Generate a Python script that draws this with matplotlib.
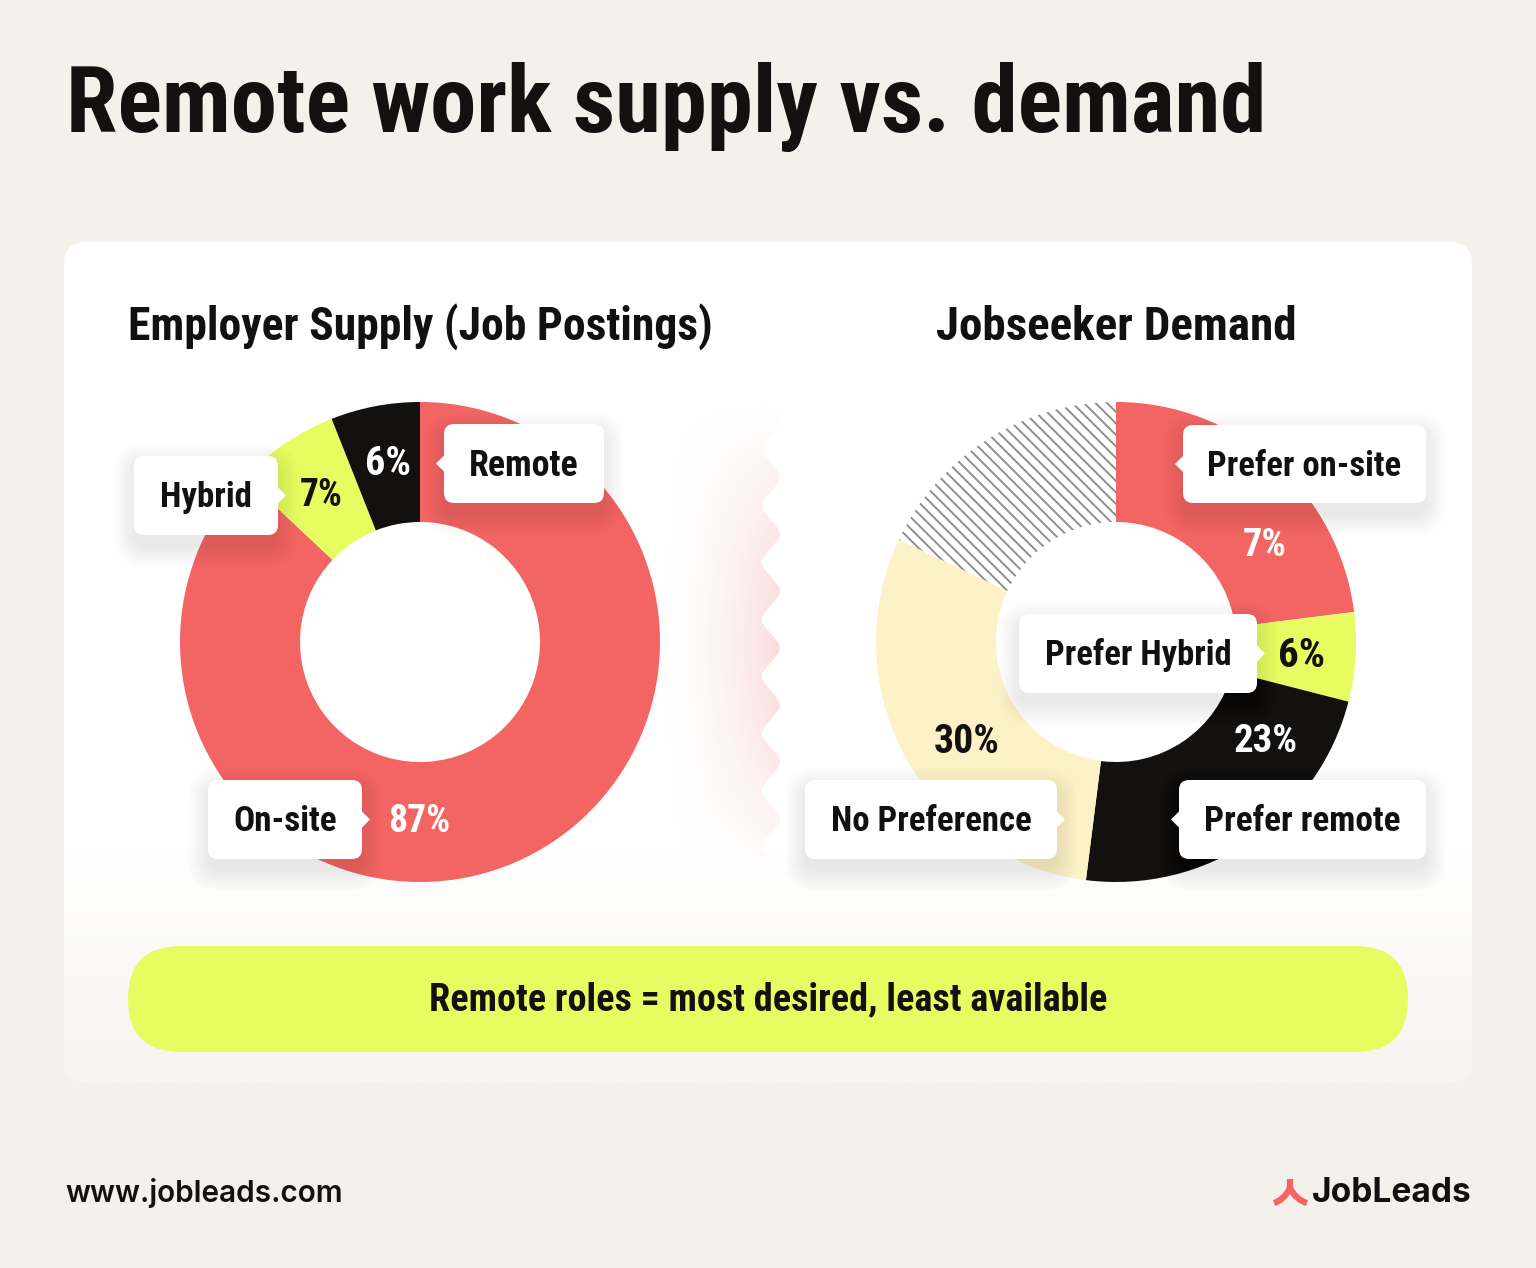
import os
import numpy as np
import matplotlib
matplotlib.use('Agg')
import matplotlib.pyplot as plt
from matplotlib.patches import FancyBboxPatch, Polygon, PathPatch
from matplotlib.path import Path
from matplotlib.collections import LineCollection
from matplotlib import font_manager
from matplotlib.font_manager import FontProperties

# --- data ---
supply_labels = ['On-site', 'Hybrid', 'Remote']
supply_shares = [87, 7, 6]

demand_labels = ['Prefer on-site', 'Prefer Hybrid', 'Prefer remote', 'No Preference']
demand_shares = [23, 6, 23, 30, 18]          # wedge sizes as drawn (last = unlabelled hatched part)
demand_pct_text = ['7%', '6%', '23%', '30%']  # numbers as printed on the chart

# --- style ---
W, H = 1536, 1268
BG = '#f4f1ea'
RED = '#f36563'
LIME = '#e6fc60'
INK = '#121110'
CREAM = '#fdf1c8'
HATCH = '#8c8c8c'

# narrow bold face for the headline text, picked from whatever is installed
wanted = ['robotocondensed-bold', 'notosans-condensedbold', 'liberationsansnarrow-bold',
          'notosans-semicondensedbold', 'dejavusanscondensed-bold', 'opensans-condensedbold']
files = {os.path.splitext(os.path.basename(f.fname))[0].lower(): f.fname
         for f in font_manager.fontManager.ttflist}
COND = None
for key in wanted:
    if key in files:
        COND = FontProperties(fname=files[key])
        break
if COND is None:
    COND = FontProperties(family='DejaVu Sans', weight='bold', stretch='condensed')
PLAIN = 'Inter' if 'Inter' in {f.name for f in font_manager.fontManager.ttflist} else 'DejaVu Sans'


def Y(y):
    # reference is measured top-down in pixels
    return H - y


fig = plt.figure(figsize=(W / 100, H / 100), dpi=100, facecolor=BG)
ax = fig.add_axes([0, 0, 1, 1])
ax.axis('off')
fits = []  # (text, target width in px)

# white card with faded bottom
card = FancyBboxPatch((64, Y(1082)), 1408, 840, boxstyle='round,pad=0,rounding_size=22',
                      fc='white', ec='none', zorder=0)
ax.add_patch(card)
c0 = np.array([1.0, 1.0, 1.0])
c1 = np.array(matplotlib.colors.to_rgb('#f6f4ef'))
t = np.linspace(0, 1, 200)[:, None, None]
grad = c0 * (1 - t) + c1 * t
im = ax.imshow(grad, extent=(64, 1472, Y(1082), Y(850)), origin='upper', aspect='auto', zorder=0.5)
im.set_clip_path(card)

# pink wavy divider
ys = np.linspace(Y(400), Y(885), 600)
phase = (Y(477) - ys) / 57.0 * 2 * np.pi + np.pi / 2
wave_x = 771 + 9 * np.arcsin(0.75 * np.sin(phase)) / np.arcsin(0.75)
verts = [(660, ys[0])] + list(zip(wave_x, ys)) + [(660, ys[-1])]
clip = Polygon(verts, closed=True, fc='none', ec='none', transform=ax.transData)
ax.add_patch(clip)
gx = np.linspace(0, 1, 130)
gy = np.linspace(0, 1, 240)
mx, my = np.meshgrid(gx, gy)
alpha = (mx ** 1.6) * np.clip(np.sin(np.pi * my), 0, 1) ** 1.2 * 0.27
pink = np.zeros((240, 130, 4))
pink[..., :3] = matplotlib.colors.to_rgb('#ee7f7f')
pink[..., 3] = alpha
pim = ax.imshow(pink, extent=(660, 782, Y(885), Y(400)), origin='upper', aspect='auto', zorder=0.6)
pim.set_clip_path(clip)

# donuts
left_c = (420, Y(642))
right_c = (1116, Y(642))
wl, _ = ax.pie(supply_shares, colors=[RED, LIME, INK], startangle=90, counterclock=False,
               center=left_c, radius=240, wedgeprops=dict(width=120, linewidth=0))
wr, _ = ax.pie(demand_shares, colors=[RED, LIME, INK, CREAM, 'white'], startangle=90,
               counterclock=False, center=right_c, radius=240,
               wedgeprops=dict(width=120, linewidth=0))
for w in wl + wr:
    w.set_zorder(2)

# diagonal hatching on the unlabelled part
cx, cy = right_c
segs = [[(cx + c - 300, cy + 300), (cx + c + 300, cy - 300)] for c in np.arange(-575, 575, 11.5)]
lc = LineCollection(segs, colors=HATCH, linewidths=1.35, zorder=2.5)
ax.add_collection(lc)
lc.set_clip_path(wr[4])


def callout(x0, y0, x1, y1, side, text, tw):
    w, h = x1 - x0, y1 - y0
    for k in range(1, 12):
        g = 2.0 * k
        ax.add_patch(FancyBboxPatch((x0 - g + 2, Y(y1) - g - 10), w + 2 * g - 4, h + 2 * g,
                                    boxstyle='round,pad=0,rounding_size=%d' % (10 + g),
                                    fc='#000000', ec='none', alpha=0.006, zorder=4))
    ax.add_patch(FancyBboxPatch((x0, Y(y1)), w, h, boxstyle='round,pad=0,rounding_size=10',
                                fc='white', ec='none', zorder=5))
    yc = Y((y0 + y1) / 2)
    if side == 'left':
        tri = [(x0 + 1, yc + 9), (x0 - 8, yc), (x0 + 1, yc - 9)]
    else:
        tri = [(x1 - 1, yc + 9), (x1 + 8, yc), (x1 - 1, yc - 9)]
    ax.add_patch(Polygon(tri, closed=True, fc='white', ec='none', zorder=5))
    txt = ax.text((x0 + x1) / 2, yc - 2, text, ha='center', va='center', fontproperties=COND,
                  fontsize=25, color=INK, zorder=6)
    fits.append((txt, tw))


def pct(x, y, text, color, tw):
    txt = ax.text(x, Y(y), text, ha='center', va='center', fontproperties=COND, fontsize=25,
                  color=color, zorder=6)
    fits.append((txt, tw))


# left labels
callout(444, 424, 604, 503, 'left', supply_labels[2], 110)
callout(134, 456, 278, 535, 'right', supply_labels[1], 92)
callout(208, 780, 362, 859, 'right', supply_labels[0], 104)
pct(388, 464, f'{supply_shares[2]}%', 'white', 46)
pct(321, 495, f'{supply_shares[1]}%', INK, 43)
pct(419, 821, f'{supply_shares[0]}%', 'white', 62)

# right labels
callout(1183, 425, 1426, 503, 'left', demand_labels[0], 194)
callout(1019, 614, 1257, 693, 'right', demand_labels[1], 187)
callout(1179, 780, 1426, 859, 'left', demand_labels[2], 197)
callout(805, 780, 1057, 859, 'right', demand_labels[3], 201)
pct(1265, 546, demand_pct_text[0], 'white', 44)
pct(1301, 656, demand_pct_text[1], INK, 47)
pct(1266, 742, demand_pct_text[2], 'white', 64)
pct(967, 742, demand_pct_text[3], INK, 66)

# titles
t1 = ax.text(66, Y(132), 'Remote work supply vs. demand', ha='left', va='baseline',
             fontproperties=COND, fontsize=64, color=INK)
t2 = ax.text(left_c[0], Y(340), 'Employer Supply (Job Postings)', ha='center', va='baseline',
             fontproperties=COND, fontsize=35, color=INK)
t3 = ax.text(right_c[0], Y(340), 'Jobseeker Demand', ha='center', va='baseline',
             fontproperties=COND, fontsize=35, color=INK)
fits += [(t1, 1200), (t2, 584), (t3, 361)]

# takeaway pill
ax.add_patch(FancyBboxPatch((128, Y(1052)), 1280, 106, boxstyle='round,pad=0,rounding_size=53',
                            fc=LIME, ec='none', zorder=3))
t4 = ax.text(768, Y(1000), 'Remote roles = most desired, least available', ha='center',
             va='center', fontproperties=COND, fontsize=27, color=INK, zorder=4)
fits.append((t4, 679))

# footer
t5 = ax.text(65, Y(1193), 'www.jobleads.com', ha='left', va='center', fontsize=22,
             family=PLAIN, weight='semibold', color=INK)
t6 = ax.text(1472, Y(1193), 'JobLeads', ha='right', va='center', fontsize=23,
             family=PLAIN, weight='bold', color=INK)
fits += [(t5, 278), (t6, 159)]
logo = Path([(1290, Y(1179)), (1290, Y(1188)), (1290, Y(1188)), (1284, Y(1200)), (1274, Y(1203)),
             (1290, Y(1188)), (1296, Y(1200)), (1307, Y(1203))],
            [Path.MOVETO, Path.LINETO, Path.MOVETO, Path.CURVE3, Path.CURVE3,
             Path.MOVETO, Path.CURVE3, Path.CURVE3])
ax.add_patch(PathPatch(logo, fc='none', ec=RED, lw=4.5, capstyle='butt'))

ax.set_xlim(0, W)
ax.set_ylim(0, H)
ax.set_aspect('auto')

# scale each text so its rendered width matches the reference
renderer = fig.canvas.get_renderer()
for txt, tw in fits:
    bw = txt.get_window_extent(renderer).width
    txt.set_fontsize(txt.get_fontsize() * tw / bw)

fig.savefig('out.png', dpi=100, facecolor=BG)
